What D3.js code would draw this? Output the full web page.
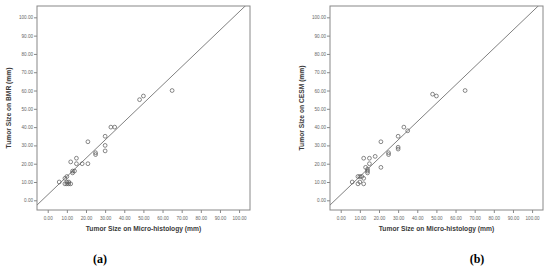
<!DOCTYPE html>
<html>
<head>
<meta charset="utf-8">
<script src="https://cdn.jsdelivr.net/npm/d3@7"></script>
<style>
body { margin: 0; background: #fff; }
svg { display: block; }
</style>
</head>
<body>
<div id="chart"></div>
<script>
// values (mm)
var histo_bmr = [6, 9, 9, 10, 10, 10, 11, 12, 11, 12, 13, 13, 14, 15, 15, 18, 21, 21, 25, 25, 30, 30, 30, 33, 35, 48, 50, 65];
var bmr       = [10, 9, 12, 13, 10, 9, 9, 9, 10, 21, 15, 16, 16, 20, 23, 20, 20, 32, 25, 26, 27, 30, 35, 40, 40, 55, 57, 60];
var histo_cesm = [6, 9, 9, 10, 11, 10, 12, 12, 12, 13, 14, 14, 14, 15, 15, 18, 21, 21, 25, 25, 30, 30, 30, 33, 35, 48, 50, 65];
var cesm       = [10, 9, 13, 13, 13, 10, 12, 9, 23, 18, 15, 16, 17, 20, 23, 24, 18, 32, 25, 26, 28, 29, 35, 40, 38, 58, 57, 60];
var tick_values = [0, 10, 20, 30, 40, 50, 60, 70, 80, 90, 100];
var fit_line = [[-10, -7], [110, 113]]; // reference line drawn on both panels
var panels = ['BMR', 'CESM'];
var panel_tags = ['(a)', '(b)'];

var svg = d3.select('#chart').append('svg')
	.attr('width', 550)
	.attr('height', 270);

function drawPanel(offset_x, xs, ys, name, tag) {
	var left = offset_x, right = offset_x + 213;
	var top = 6, bottom = 210;

	var x = d3.scaleLinear().domain([-5.6, 105.7]).range([left, right]);
	var y = d3.scaleLinear().domain([-5.3, 106.2]).range([bottom, top]);

	var g = svg.append('g');

	// clip so the line stays in the box
	var clip_id = 'clip' + name;
	g.append('clipPath').attr('id', clip_id)
		.append('rect')
		.attr('x', left).attr('y', top)
		.attr('width', right - left).attr('height', bottom - top);

	var xAxis = g.append('g')
		.attr('transform', 'translate(0,' + bottom + ')')
		.call(d3.axisBottom(x).tickValues(tick_values).tickSize(3).tickFormat(d3.format('.2f')));
	var yAxis = g.append('g')
		.attr('transform', 'translate(' + left + ',0)')
		.call(d3.axisLeft(y).tickValues(tick_values).tickSize(3).tickFormat(d3.format('.2f')));

	[xAxis, yAxis].forEach(function(a) {
		a.select('.domain').remove();
		a.selectAll('line').attr('stroke', '#888');
		a.selectAll('text')
			.attr('fill', '#666')
			.style('font-family', 'Liberation Sans, Arial, sans-serif')
			.style('font-size', '4.6px');
	});
	xAxis.selectAll('text').attr('dy', '0.9em');
	yAxis.selectAll('text').attr('x', -4);

	// plot frame
	g.append('rect')
		.attr('x', left).attr('y', top)
		.attr('width', right - left).attr('height', bottom - top)
		.attr('fill', 'none')
		.attr('stroke', '#888')
		.attr('stroke-width', 1);

	g.append('line')
		.attr('clip-path', 'url(#' + clip_id + ')')
		.attr('x1', x(fit_line[0][0])).attr('y1', y(fit_line[0][1]))
		.attr('x2', x(fit_line[1][0])).attr('y2', y(fit_line[1][1]))
		.attr('stroke', '#808080')
		.attr('stroke-width', 1);

	g.selectAll('circle.pt')
		.data(xs.map(function(d, i) { return [d, ys[i]]; }))
		.enter().append('circle')
		.attr('class', 'pt')
		.attr('cx', function(d) { return x(d[0]); })
		.attr('cy', function(d) { return y(d[1]); })
		.attr('r', 1.9)
		.attr('fill', 'none')
		.attr('stroke', '#555')
		.attr('stroke-width', 0.7);

	// axis titles
	g.append('text')
		.attr('x', (left + right) / 2)
		.attr('y', 231)
		.attr('text-anchor', 'middle')
		.attr('fill', '#3a3a3a')
		.style('font-family', 'Liberation Sans, Arial, sans-serif')
		.style('font-weight', 'bold')
		.style('font-size', '6.7px')
		.text('Tumor Size on Micro-histology (mm)');

	g.append('text')
		.attr('transform', 'translate(' + (left - 26) + ',' + ((top + bottom) / 2) + ') rotate(-90)')
		.attr('text-anchor', 'middle')
		.attr('fill', '#3a3a3a')
		.style('font-family', 'Liberation Sans, Arial, sans-serif')
		.style('font-weight', 'bold')
		.style('font-size', '6.7px')
		.text('Tumor Size on ' + name + ' (mm)');

	g.append('text')
		.attr('x', offset_x + (name === 'BMR' ? 63 : 147))
		.attr('y', 263)
		.attr('text-anchor', 'middle')
		.attr('fill', '#000')
		.style('font-family', 'Liberation Serif, Times New Roman, serif')
		.style('font-weight', 'bold')
		.style('font-size', '12px')
		.text(tag);
}

drawPanel(37, histo_bmr, bmr, panels[0], panel_tags[0]);
drawPanel(330, histo_cesm, cesm, panels[1], panel_tags[1]);
</script>
</body>
</html>
